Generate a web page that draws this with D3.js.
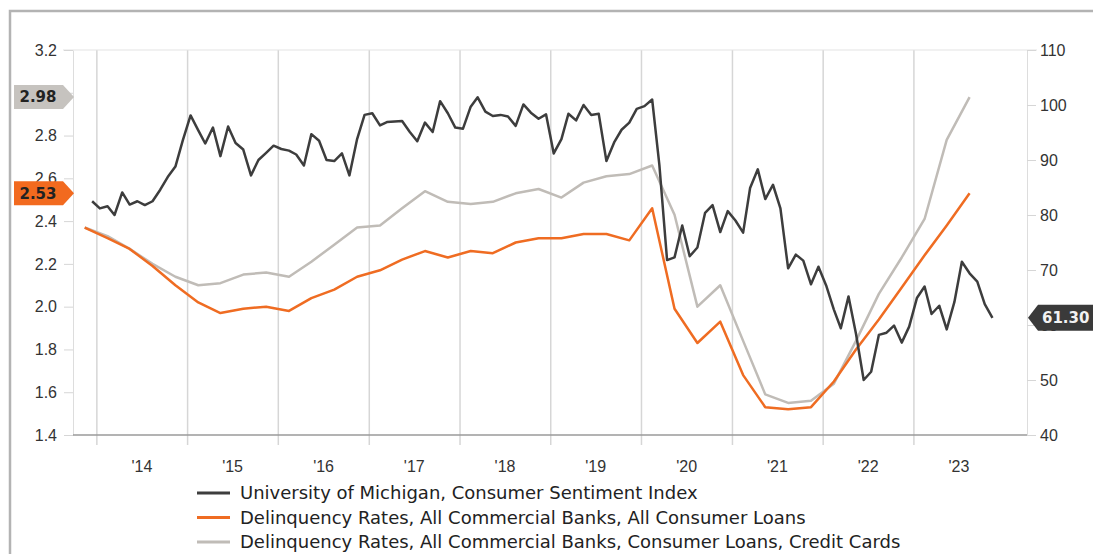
<!DOCTYPE html>
<html>
<head>
<meta charset="utf-8">
<style>
  body { margin: 0; background: #fff; }
  svg { display: block; font-family: "DejaVu Sans", Verdana, sans-serif; }
  .axis text { fill: #333; font-size: 16px; }
  .axis .domain { stroke: #ddd; }
  .axis .tick line { stroke: #d6d6d6; }
</style>
<script src="https://d3js.org/d3.v7.min.js"></script>
</head>
<body>
<script>
// monthly, Dec 2013 .. Nov 2023
var sentimentStart = [2013, 11];
var sentiment = [
  82.5,
  81.2, 81.6, 80.0, 84.1, 81.9, 82.5, 81.8, 82.5, 84.6, 86.9, 88.8, 93.6,
  98.1, 95.4, 93.0, 95.9, 90.7, 96.1, 93.1, 91.9, 87.2, 90.0, 91.3, 92.6,
  92.0, 91.7, 91.0, 89.0, 94.7, 93.5, 90.0, 89.8, 91.2, 87.2, 93.8, 98.2,
  98.5, 96.3, 96.9, 97.0, 97.1, 95.1, 93.4, 96.8, 95.1, 100.7, 98.5, 95.9,
  95.7, 99.7, 101.4, 98.8, 98.0, 98.2, 97.9, 96.2, 100.1, 98.6, 97.5, 98.3,
  91.2, 93.8, 98.4, 97.2, 100.0, 98.2, 98.4, 89.8, 93.2, 95.5, 96.8, 99.3,
  99.8, 101.0, 89.1, 71.8, 72.3, 78.1, 72.5, 74.1, 80.4, 81.8, 76.9, 80.7,
  79.0, 76.8, 84.9, 88.3, 82.9, 85.5, 81.2, 70.3, 72.8, 71.7, 67.4, 70.6,
  67.2, 62.8, 59.4, 65.2, 58.4, 50.0, 51.5, 58.2, 58.6, 59.9, 56.8, 59.7,
  64.9, 67.0, 62.0, 63.5, 59.2, 64.2, 71.5, 69.4, 67.9, 63.8, 61.3
];

// quarterly, Q4 2013 .. Q3 2023
var quarterStart = [2013, 10];
var consumerLoans = [
  2.37,
  2.32, 2.27, 2.19, 2.10,
  2.02, 1.97, 1.99, 2.00,
  1.98, 2.04, 2.08, 2.14,
  2.17, 2.22, 2.26, 2.23,
  2.26, 2.25, 2.30, 2.32,
  2.32, 2.34, 2.34, 2.31,
  2.46, 1.99, 1.83, 1.93,
  1.68, 1.53, 1.52, 1.53,
  1.65, 1.80, 1.94, 2.09,
  2.24, 2.38, 2.53
];
var creditCards = [
  2.37,
  2.33, 2.27, 2.20, 2.14,
  2.10, 2.11, 2.15, 2.16,
  2.14, 2.21, 2.29, 2.37,
  2.38, 2.46, 2.54, 2.49,
  2.48, 2.49, 2.53, 2.55,
  2.51, 2.58, 2.61, 2.62,
  2.66, 2.43, 2.00, 2.10,
  1.84, 1.59, 1.55, 1.56,
  1.64, 1.84, 2.06, 2.23,
  2.41, 2.78, 2.98
];

var years = d3.range(2014, 2024);
var leftTicks = [1.4, 1.6, 1.8, 2.0, 2.2, 2.4, 2.6, 2.8, 3.0, 3.2];
var rightTicks = [40, 50, 60, 70, 80, 90, 100, 110];
var legendLabels = [
  "University of Michigan, Consumer Sentiment Index",
  "Delinquency Rates, All Commercial Banks, All Consumer Loans",
  "Delinquency Rates, All Commercial Banks, Consumer Loans, Credit Cards"
];
var colors = ["#3d3d3d", "#ef6c22", "#c0bcb7"];

var W = 1093, H = 554;
var plotL = 73, plotR = 1027, plotT = 50, plotB = 435;

var svg = d3.select("body").append("svg")
  .attr("width", W).attr("height", H);

// outer frame
svg.append("rect")
  .attr("x", 10).attr("y", 11)
  .attr("width", 1200).attr("height", 700)
  .attr("fill", "none").attr("stroke", "#b3b3b3").attr("stroke-width", 2.5);

var x = d3.scaleTime()
  .domain([new Date(2013, 8, 29), new Date(2024, 3, 2)])
  .range([plotL, plotR]);
var yL = d3.scaleLinear().domain([1.4, 3.2]).range([plotB, plotT]);
var yR = d3.scaleLinear().domain([40, 110]).range([plotB, plotT]);

// year gridlines
svg.append("g")
  .attr("class", "axis grid")
  .attr("transform", "translate(0," + (plotB + 10) + ")")
  .call(d3.axisBottom(x)
    .tickValues(years.map(function(y) { return new Date(y, 0, 1); }))
    .tickSize(-(plotB + 10 - plotT))
    .tickFormat(""))
  .call(function(g) {
    g.select(".domain").remove();
    g.selectAll(".tick line").attr("stroke", "#e6e6e6").attr("stroke-width", 1.5);
  });

// year labels, mid-year
svg.append("g")
  .attr("class", "axis")
  .attr("transform", "translate(0," + plotB + ")")
  .call(d3.axisBottom(x)
    .tickValues(years.map(function(y) { return new Date(y, 6, 1); }))
    .tickSize(0)
    .tickPadding(26)
    .tickFormat(d3.timeFormat("'%y")))
  .call(function(g) { g.select(".domain").remove(); });

// top line
svg.append("line")
  .attr("x1", plotL - 10).attr("x2", plotR + 10)
  .attr("y1", plotT).attr("y2", plotT)
  .attr("stroke", "#e3e3e3");

svg.append("g")
  .attr("class", "axis")
  .attr("transform", "translate(" + plotL + ",0)")
  .call(d3.axisLeft(yL).tickValues(leftTicks).tickFormat(d3.format(".1f"))
    .tickSize(9).tickPadding(7).tickSizeOuter(0));

svg.append("g")
  .attr("class", "axis")
  .attr("transform", "translate(" + plotR + ",0)")
  .call(d3.axisRight(yR).tickValues(rightTicks)
    .tickSize(9).tickPadding(4).tickSizeOuter(0));

// baseline
svg.append("line")
  .attr("x1", plotL).attr("x2", plotR)
  .attr("y1", plotB).attr("y2", plotB)
  .attr("stroke", "#9a9a9a").attr("stroke-width", 1.5);

function monthDate(start, i, step) {
  return new Date(start[0], start[1] + i * step, 15);
}

var lineL = d3.line()
  .x(function(d) { return x(d.date); })
  .y(function(d) { return yL(d.value); });
var lineR = d3.line()
  .x(function(d) { return x(d.date); })
  .y(function(d) { return yR(d.value); });

var cardData = creditCards.map(function(v, i) { return {date: monthDate(quarterStart, i, 3), value: v}; });
var loanData = consumerLoans.map(function(v, i) { return {date: monthDate(quarterStart, i, 3), value: v}; });
var sentData = sentiment.map(function(v, i) { return {date: monthDate(sentimentStart, i, 1), value: v}; });

svg.append("path").datum(cardData)
  .attr("d", lineL).attr("fill", "none")
  .attr("stroke", colors[2]).attr("stroke-width", 2.5).attr("stroke-linejoin", "round");
svg.append("path").datum(loanData)
  .attr("d", lineL).attr("fill", "none")
  .attr("stroke", colors[1]).attr("stroke-width", 2.5).attr("stroke-linejoin", "round");
svg.append("path").datum(sentData)
  .attr("d", lineR).attr("fill", "none")
  .attr("stroke", colors[0]).attr("stroke-width", 2.5).attr("stroke-linejoin", "round");

// last value flags
function leftFlag(value, fill) {
  var cy = yL(value), h = 24;
  svg.append("path")
    .attr("d", "M14," + (cy - h / 2) + "H63L" + (plotL + 1) + "," + cy + "L63," + (cy + h / 2) + "H14Z")
    .attr("fill", fill);
  svg.append("text")
    .attr("x", 38).attr("y", cy).attr("dy", "0.36em")
    .attr("text-anchor", "middle")
    .attr("font-size", 15).attr("font-weight", "bold").attr("fill", "#222")
    .text(value.toFixed(2));
}
leftFlag(creditCards[creditCards.length - 1], "#c6c3bf");
leftFlag(consumerLoans[consumerLoans.length - 1], "#f26a1f");

var lastSent = sentiment[sentiment.length - 1];
var cyR = yR(lastSent);
svg.append("path")
  .attr("d", "M" + (plotR + 1) + "," + cyR + "L1038," + (cyR - 13) + "H1100V" + (cyR + 13) + "H1038Z")
  .attr("fill", "#3a3a3a");
svg.append("text")
  .attr("x", 1042).attr("y", cyR).attr("dy", "0.36em")
  .attr("font-size", 15).attr("font-weight", "bold").attr("fill", "#f2f2f2")
  .text(lastSent.toFixed(2));

// legend
var legend = svg.append("g").attr("transform", "translate(197,493)");
legendLabels.forEach(function(label, i) {
  var row = legend.append("g").attr("transform", "translate(0," + (i * 24.5) + ")");
  row.append("line")
    .attr("x1", 0).attr("x2", 33)
    .attr("stroke", colors[i]).attr("stroke-width", 3);
  row.append("text")
    .attr("x", 43).attr("dy", "0.35em")
    .attr("font-size", 18).attr("fill", "#222")
    .text(label);
});
</script>
</body>
</html>
